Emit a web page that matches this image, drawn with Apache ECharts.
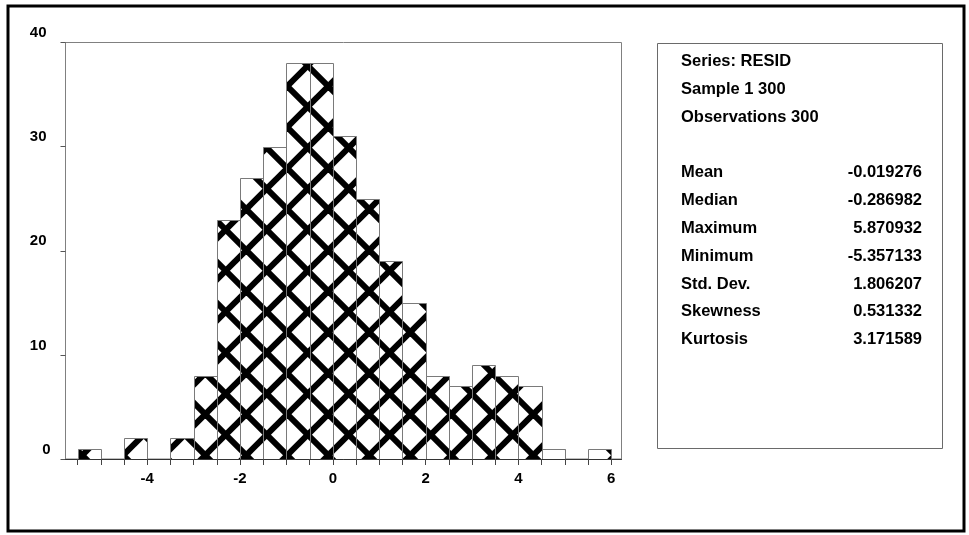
<!DOCTYPE html>
<html>
<head>
<meta charset="utf-8">
<style>
  html, body { margin: 0; padding: 0; background: #ffffff; }
  #chart { width: 969px; height: 535px; }
</style>
<script src="https://cdn.jsdelivr.net/npm/echarts@6/dist/echarts.min.js"></script>
</head>
<body>
<div id="chart"></div>
<script>
// Histogram of RESID: left edge of each bin and its count (bin width 0.5)
const binStarts = [-5.5, -5, -4.5, -4, -3.5, -3, -2.5, -2, -1.5, -1, -0.5, 0, 0.5, 1, 1.5, 2, 2.5, 3, 3.5, 4, 4.5, 5, 5.5];
const binWidth = 0.5;
const counts = [1, 0, 2, 0, 2, 8, 23, 27, 30, 38, 38, 31, 25, 19, 15, 8, 7, 9, 8, 7, 1, 0, 1];

// Axis ticks and labels
const xTickValues = [-5.5, -5, -4.5, -4, -3.5, -3, -2.5, -2, -1.5, -1, -0.5, 0, 0.5, 1, 1.5, 2, 2.5, 3, 3.5, 4, 4.5, 5, 5.5, 6];
const xLabelValues = [-4, -2, 0, 2, 4, 6];
const yTickValues = [0, 10, 20, 30, 40];

// Descriptive statistics panel
const headerLines = ['Series: RESID', 'Sample 1 300', 'Observations 300'];
const statNames = ['Mean', 'Median', 'Maximum', 'Minimum', 'Std. Dev.', 'Skewness', 'Kurtosis'];
const statValues = ['-0.019276', '-0.286982', '5.870932', '-5.357133', '1.806207', '0.531332', '3.171589'];

const FONT = '"Liberation Sans", Arial, sans-serif';
const PANEL_FONT = 'bold 16.5px ' + FONT;

// Cross-hatch tile: two families of thick diagonal lines, repeating every `period` px
function makeHatch(period, lineWidth, offA, offB) {
  const cv = document.createElement('canvas');
  cv.width = period;
  cv.height = period;
  const ctx = cv.getContext('2d');
  ctx.fillStyle = '#ffffff';
  ctx.fillRect(0, 0, period, period);
  ctx.strokeStyle = '#000000';
  ctx.lineWidth = lineWidth;
  for (let k = -3; k <= 3; k++) {
    const a = offA + k * period;       // y = x + a
    ctx.beginPath();
    ctx.moveTo(-period, -period + a);
    ctx.lineTo(2 * period, 2 * period + a);
    ctx.stroke();
    const b = offB + k * period;       // y = -x + b
    ctx.beginPath();
    ctx.moveTo(-period, period + b);
    ctx.lineTo(2 * period, -2 * period + b);
    ctx.stroke();
  }
  return cv;
}

const hatch = { image: makeHatch(41, 6, 4, 4.4), repeat: 'repeat' };

const histData = binStarts.map((s, i) => [s, s + binWidth, counts[i]]);

// Text rows of the statistics panel
const rowY = i => 61.7 + 27.8 * i;
const panelTexts = [];
headerLines.forEach((t, i) => {
  panelTexts.push({
    type: 'text', x: 681, y: rowY(i), z: 10,
    style: { text: t, font: PANEL_FONT, fill: '#000', align: 'left', verticalAlign: 'middle' }
  });
});
statNames.forEach((t, i) => {
  panelTexts.push({
    type: 'text', x: 681, y: rowY(i + 4), z: 10,
    style: { text: t, font: PANEL_FONT, fill: '#000', align: 'left', verticalAlign: 'middle' }
  });
  panelTexts.push({
    type: 'text', x: 922, y: rowY(i + 4), z: 10,
    style: { text: statValues[i], font: PANEL_FONT, fill: '#000', align: 'right', verticalAlign: 'middle' }
  });
});

const chart = echarts.init(document.getElementById('chart'), null, { renderer: 'canvas' });

chart.setOption({
  animation: false,
  backgroundColor: '#ffffff',
  grid: {
    left: 65.5, top: 42.5, width: 556, height: 416.5,
    show: true, borderColor: '#808080', borderWidth: 1, backgroundColor: 'transparent',
    containLabel: false
  },
  xAxis: {
    type: 'value',
    min: -5.76,
    max: 6.22,
    z: 5,
    splitLine: { show: false },
    axisLine: { show: true, onZero: false, lineStyle: { color: '#333333', width: 1 } },
    axisTick: { show: true, inside: false, length: 6, customValues: xTickValues, lineStyle: { color: '#444444' } },
    axisLabel: {
      show: true, customValues: xLabelValues, margin: 12,
      color: '#000', fontFamily: FONT, fontWeight: 'bold', fontSize: 15, lineHeight: 15,
      formatter: v => String(v)
    }
  },
  yAxis: {
    type: 'value',
    min: 0,
    max: 40,
    interval: 10,
    splitLine: { show: false },
    axisLine: { show: true, onZero: false, lineStyle: { color: '#808080', width: 1 } },
    axisTick: { show: true, inside: false, length: 5, customValues: yTickValues, lineStyle: { color: '#555555' } },
    axisLabel: {
      show: true, margin: 15, verticalAlign: 'bottom', lineHeight: 15, padding: [0, 0, 2, 0],
      color: '#000', fontFamily: FONT, fontWeight: 'bold', fontSize: 15,
      formatter: v => (v === 0 ? '{z|0}' : '{n|' + v + '}'),
      rich: {
        n: { fontFamily: FONT, fontWeight: 'bold', fontSize: 15, color: '#000', padding: [0, 4, 0, 0] },
        z: { fontFamily: FONT, fontWeight: 'bold', fontSize: 15, color: '#000' }
      }
    }
  },
  series: [{
    type: 'custom',
    name: 'RESID',
    data: histData,
    encode: { x: [0, 1], y: 2 },
    renderItem: (params, api) => {
      const lo = api.value(0), hi = api.value(1), n = api.value(2);
      const pTop = api.coord([lo, n]);
      const pBot = api.coord([hi, 0]);
      const x0 = Math.round(pTop[0]) + 0.5;
      const x1 = Math.round(pBot[0]) + 0.5;
      const y0 = Math.round(pTop[1]) + 0.5;
      const y1 = Math.round(pBot[1]) + 0.5;
      return {
        type: 'rect',
        shape: { x: x0, y: y0, width: x1 - x0, height: y1 - y0 },
        style: { fill: hatch, stroke: '#7a7a7a', lineWidth: 1 }
      };
    }
  }],
  graphic: [
    {
      type: 'rect', z: 10,
      shape: { x: 8, y: 6, width: 956, height: 525 },
      style: { fill: 'none', stroke: '#000000', lineWidth: 3 }
    },
    {
      type: 'rect', z: 10,
      shape: { x: 657.5, y: 43.5, width: 285, height: 405 },
      style: { fill: 'none', stroke: '#6a6a6a', lineWidth: 1 }
    }
  ].concat(panelTexts)
});
</script>
</body>
</html>
